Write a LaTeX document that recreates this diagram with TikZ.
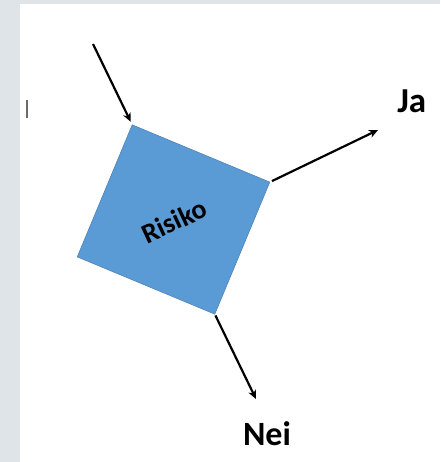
\documentclass[tikz,border=0pt]{standalone}
\usepackage{fontspec}
\setmainfont{Carlito}
\usetikzlibrary{arrows.meta}
\definecolor{bgside}{HTML}{DFE4E9}
\definecolor{boxblue}{HTML}{5B9BD5}
\definecolor{boxedge}{HTML}{4D84B8}
\definecolor{barcol}{HTML}{6A6A6A}
\tikzset{
  conn/.style={line width=2.2pt, -{Stealth[length=9pt,width=8pt]}},
  riskbox/.style={draw=boxedge, line width=0.6pt, fill=boxblue, rectangle,
    minimum width=149pt, minimum height=143pt, inner sep=0pt,
    rotate=-22.6},
  risktext/.style={font=\bfseries\fontsize{28}{30}\selectfont, inner sep=0pt, rotate=25},
  answer/.style={font=\bfseries\fontsize{#1}{#1}\selectfont, inner sep=0pt, anchor=base}
}
\begin{document}
\begin{tikzpicture}[x=1pt,y=-1pt]
\useasboundingbox (0,0) rectangle (440,462);
\fill[bgside] (0,0) rectangle (440,462);
\fill[white] (20,4) rectangle (440,462);
\draw[barcol, line width=1.6pt] (27,100) -- (27,118);
\node[riskbox] (risk) at (173.5,219.5) {};
\node[risktext] (risklabel) at (174,221) {Risiko};
\coordinate (start) at (93,44);
\coordinate (jaend) at (378,130);
\coordinate (neiend) at (256,399);
\node[answer=35] (ja) at (411.7,113) {Ja};
\node[answer=34] (nei) at (267,445) {Nei};
\draw[conn, shorten >=3pt] (start) -- (risk.north west);
\draw[conn, shorten <=2pt] (risk.north east) -- (jaend);
\draw[conn, shorten <=1pt] (risk.south east) -- (neiend);
\end{tikzpicture}
\end{document}
